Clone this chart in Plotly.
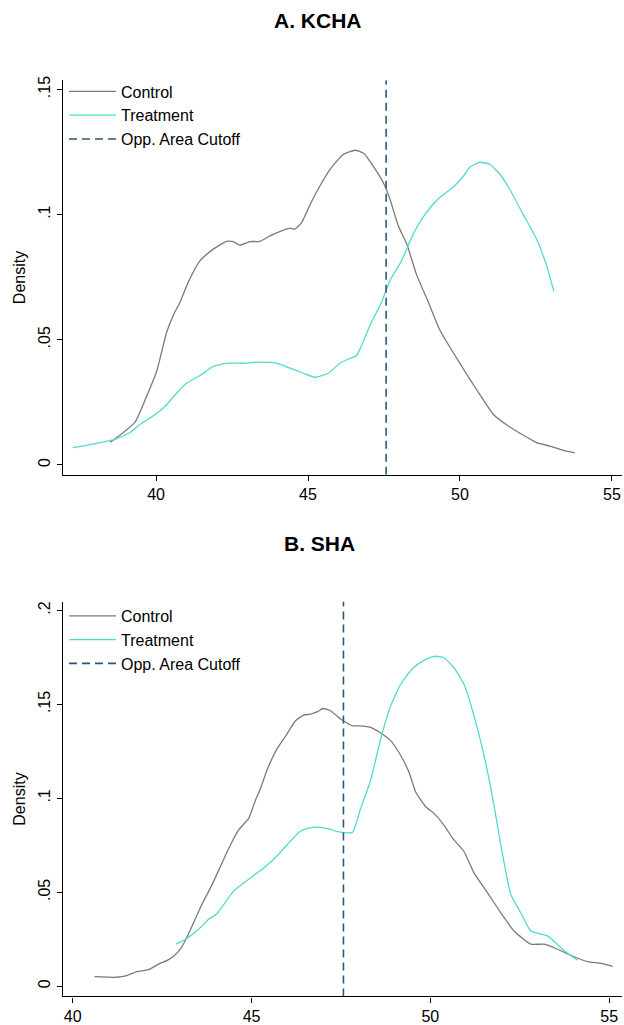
import plotly.graph_objects as go

# ---- Panel A: KCHA kernel densities ----
kcha_ctrl_x = [38.49, 39.31, 39.69, 40.02, 40.35, 40.57, 40.79, 41.06, 41.45, 41.88, 42.33, 42.54,
               42.76, 43.09, 43.42, 43.75, 44.13, 44.41, 44.57, 44.79, 45.07, 45.39, 45.72, 46.16,
               46.55, 46.82, 47.15, 47.48, 47.70, 47.97, 48.25, 48.58, 48.96, 49.34, 50.06, 50.55,
               51.10, 51.59, 52.03, 52.52, 52.96, 53.40, 53.78]
kcha_ctrl_y = [0.0089, 0.0171, 0.0274, 0.0373, 0.0530, 0.0598, 0.0650, 0.0730, 0.0816, 0.0862, 0.0893, 0.0892,
               0.0878, 0.0892, 0.0893, 0.0915, 0.0935, 0.0946, 0.0942, 0.0968, 0.1040, 0.1114, 0.1180, 0.1240,
               0.1257, 0.1246, 0.1193, 0.1127, 0.1060, 0.0955, 0.0882, 0.0757, 0.0650, 0.0538, 0.0393, 0.0300,
               0.0201, 0.0155, 0.0122, 0.0089, 0.0075, 0.0058, 0.0048]

kcha_treat_x = [37.26, 37.72, 38.16, 38.65, 39.14, 39.47, 39.97, 40.30, 40.68, 41.01, 41.45, 41.88,
                42.33, 42.87, 43.31, 43.97, 44.41, 44.85, 45.23, 45.67, 46.05, 46.33, 46.60, 47.04,
                47.42, 47.70, 48.08, 48.46, 48.85, 49.29, 49.78, 50.11, 50.33, 50.66, 50.99, 51.32,
                51.64, 52.08, 52.52, 52.85, 53.09]
kcha_treat_y = [0.0069, 0.0078, 0.0089, 0.0102, 0.0128, 0.0161, 0.0201, 0.0234, 0.0287, 0.0327, 0.0357, 0.0393,
                0.0406, 0.0406, 0.0410, 0.0406, 0.0386, 0.0366, 0.0350, 0.0366, 0.0406, 0.0423, 0.0437, 0.0558,
                0.0650, 0.0737, 0.0816, 0.0922, 0.1001, 0.1063, 0.1110, 0.1153, 0.1190, 0.1209, 0.1200, 0.1160,
                0.1100, 0.1001, 0.0902, 0.0796, 0.0693]

# ---- Panel B: SHA kernel densities ----
sha_ctrl_x = [40.61, 41.23, 41.51, 41.79, 42.12, 42.40, 42.63, 42.82, 43.01, 43.19, 43.38, 43.61,
              43.89, 44.13, 44.41, 44.64, 44.92, 45.11, 45.25, 45.43, 45.71, 45.99, 46.23, 46.46,
              46.65, 46.83, 47.00, 47.21, 47.49, 47.82, 48.00, 48.33, 48.61, 48.89, 49.17, 49.40,
              49.59, 49.87, 50.10, 50.38, 50.62, 50.94, 51.22, 51.60, 51.97, 52.34, 52.81, 53.18,
              53.56, 54.02, 54.40, 54.77, 55.10]
sha_ctrl_y = [0.0051, 0.0048, 0.0057, 0.0078, 0.0088, 0.0118, 0.0136, 0.0159, 0.0197, 0.0259, 0.0338, 0.0435,
              0.0538, 0.0638, 0.0752, 0.0832, 0.0893, 0.0990, 0.1052, 0.1149, 0.1263, 0.1342, 0.1413, 0.1443,
              0.1448, 0.1460, 0.1478, 0.1466, 0.1422, 0.1386, 0.1386, 0.1378, 0.1348, 0.1307, 0.1228, 0.1140,
              0.1034, 0.0955, 0.0920, 0.0858, 0.0788, 0.0717, 0.0603, 0.0497, 0.0391, 0.0294, 0.0224, 0.0224,
              0.0197, 0.0157, 0.0131, 0.0122, 0.0106]

sha_treat_x = [42.89, 43.19, 43.52, 43.80, 44.03, 44.50, 44.97, 45.34, 45.67, 45.99, 46.37, 46.65,
               46.93, 47.21, 47.39, 47.82, 48.05, 48.33, 48.61, 48.89, 49.17, 49.50, 49.82, 50.10,
               50.38, 50.66, 50.94, 51.22, 51.50, 51.78, 51.97, 52.25, 52.53, 52.81, 53.28, 53.74,
               54.12]
sha_treat_y = [0.0224, 0.0254, 0.0303, 0.0356, 0.0386, 0.0506, 0.0576, 0.0629, 0.0685, 0.0752, 0.0826, 0.0844,
               0.0846, 0.0835, 0.0823, 0.0819, 0.0946, 0.1096, 0.1316, 0.1492, 0.1607, 0.1691, 0.1734, 0.1756,
               0.1748, 0.1695, 0.1607, 0.1439, 0.1228, 0.0963, 0.0752, 0.0488, 0.0391, 0.0294, 0.0268, 0.0189,
               0.0139]

# Opportunity-area cutoff (same in both panels)
cutoff = 47.57

# Axis ticks
x_ticks = [40, 45, 50, 55]
kcha_y_ticks = [0, 0.05, 0.1, 0.15]
kcha_y_labels = ["0", ".05", ".1", ".15"]
sha_y_ticks = [0, 0.05, 0.1, 0.15, 0.2]
sha_y_labels = ["0", ".05", ".1", ".15", ".2"]

kcha_xrange = [36.93, 55.32]
kcha_yrange = [-0.00397, 0.1537]
sha_xrange = [39.72, 55.35]
sha_yrange = [-0.00544, 0.2047]

CTRL = "#7a7a7a"
TREAT = "#4fdccd"
CUT = "#2f5679"
FONT = "Liberation Sans, Arial, sans-serif"

fig = go.Figure()


def add_panel(xa, ya, legend, cx, cy, tx, ty, yrange):
    fig.add_trace(go.Scatter(x=cx, y=cy, mode="lines", name="Control",
                             line=dict(color=CTRL, width=1.3, shape="spline", smoothing=0.5),
                             xaxis=xa, yaxis=ya, legend=legend))
    fig.add_trace(go.Scatter(x=tx, y=ty, mode="lines", name="Treatment",
                             line=dict(color=TREAT, width=1.3, shape="spline", smoothing=0.5),
                             xaxis=xa, yaxis=ya, legend=legend))
    fig.add_trace(go.Scatter(x=[cutoff, cutoff], y=yrange, mode="lines",
                             name="Opp. Area Cutoff",
                             line=dict(color=CUT, width=1.6, dash="8px,5px"),
                             xaxis=xa, yaxis=ya, legend=legend))


add_panel("x", "y", "legend", kcha_ctrl_x, kcha_ctrl_y, kcha_treat_x, kcha_treat_y, kcha_yrange)
add_panel("x2", "y2", "legend2", sha_ctrl_x, sha_ctrl_y, sha_treat_x, sha_treat_y, sha_yrange)

xdom = [62.7 / 624, 621.7 / 624]
top_dom = [(1025 - 474) / 1025, (1025 - 76.7) / 1025]
bot_dom = [(1025 - 999.3) / 1025, (1025 - 601.7) / 1025]

common_x = dict(showgrid=False, zeroline=False, showline=True, linecolor="black", linewidth=1.3,
                ticks="outside", ticklen=5, tickwidth=1.2, tickcolor="black",
                tickvals=x_ticks, ticktext=[str(v) for v in x_ticks],
                tickfont=dict(family=FONT, size=16, color="black"), domain=xdom)
common_y = dict(showgrid=False, zeroline=False, showline=True, linecolor="black", linewidth=1.3,
                ticks="outside", ticklen=5, tickwidth=1.2, tickcolor="black", tickangle=-90,
                tickfont=dict(family=FONT, size=16, color="black"),
                title=dict(text="Density", font=dict(family=FONT, size=16, color="black"), standoff=6))

legend_style = dict(font=dict(family=FONT, size=16, color="black"), bgcolor="rgba(0,0,0,0)",
                    borderwidth=0, itemwidth=47, tracegroupgap=0, xanchor="left", yanchor="top",
                    x=64 / 624)

fig.update_layout(
    width=624, height=1025,
    margin=dict(l=0, r=0, t=0, b=0),
    paper_bgcolor="white", plot_bgcolor="white",
    font=dict(family=FONT, color="black"),
    xaxis=dict(common_x, range=kcha_xrange, anchor="y"),
    yaxis=dict(common_y, range=kcha_yrange, domain=top_dom, anchor="x",
               tickvals=kcha_y_ticks, ticktext=kcha_y_labels),
    xaxis2=dict(common_x, range=sha_xrange, anchor="y2"),
    yaxis2=dict(common_y, range=sha_yrange, domain=bot_dom, anchor="x2",
                tickvals=sha_y_ticks, ticktext=sha_y_labels),
    legend=dict(legend_style, y=(1025 - 71) / 1025),
    legend2=dict(legend_style, y=(1025 - 599) / 1025),
    showlegend=True,
    annotations=[
        dict(text="<b>A. KCHA</b>", x=318 / 624, y=1 - 17 / 1025, xref="paper", yref="paper",
             showarrow=False, font=dict(family=FONT, size=21, color="black"),
             xanchor="center", yanchor="middle"),
        dict(text="<b>B. SHA</b>", x=319 / 624, y=1 - 543 / 1025, xref="paper", yref="paper",
             showarrow=False, font=dict(family=FONT, size=21, color="black"),
             xanchor="center", yanchor="middle"),
    ],
)

fig.write_html("out.html")
